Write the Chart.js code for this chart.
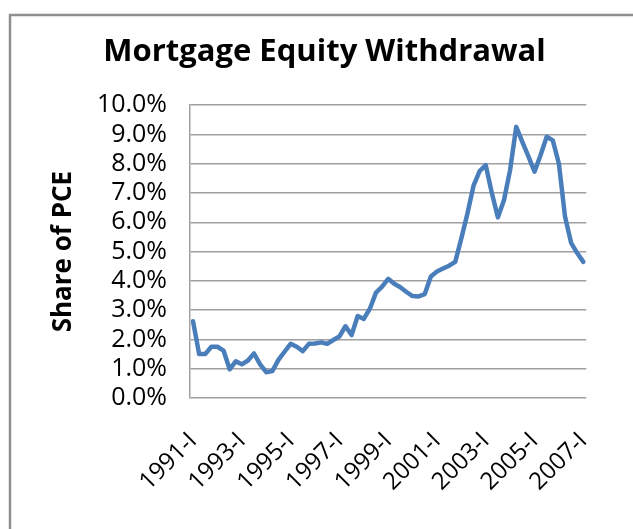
<!DOCTYPE html>
<html>
<head>
<meta charset="utf-8">
<script src="https://cdn.jsdelivr.net/npm/chart.js@4.4.1/dist/chart.umd.min.js"></script>
<style>
  html, body { margin: 0; padding: 0; background: #fff; }
  #wrap { position: absolute; left: 0; top: 0; width: 633px; height: 529px; }
</style>
</head>
<body>
<div id="wrap"><canvas id="mew"></canvas></div>
<script>
// quarters 1991-I .. 2007-I
const years = [1991, 1992, 1993, 1994, 1995, 1996, 1997, 1998, 1999, 2000, 2001, 2002, 2003, 2004, 2005, 2006, 2007];
const quarters = ['I', 'II', 'III', 'IV'];

// mortgage equity withdrawal, % of PCE
const mewShare = [
  2.62, 1.50, 1.50, 1.75, 1.75, 1.62, 0.98, 1.25,
  1.15, 1.28, 1.52, 1.15, 0.88, 0.92, 1.30, 1.58,
  1.85, 1.75, 1.60, 1.85, 1.86, 1.90, 1.85, 1.98,
  2.10, 2.45, 2.15, 2.80, 2.70, 3.05, 3.60, 3.80,
  4.07, 3.90, 3.78, 3.62, 3.48, 3.47, 3.55, 4.15,
  4.32, 4.42, 4.52, 4.65, 5.45, 6.30, 7.25, 7.75,
  7.95, 7.00, 6.17, 6.76, 7.79, 9.26, 8.75, 8.25,
  7.73, 8.30, 8.92, 8.80, 8.00, 6.20, 5.30, 4.95,
  4.65
];

const yTicks = [0, 1, 2, 3, 4, 5, 6, 7, 8, 9, 10];

const labels = [];
years.forEach(y => quarters.forEach(q => labels.push(y + '-' + q)));
labels.length = mewShare.length;

const gray = '#a0a0a0';

// the outer frame of the pasted excel chart
const framePlugin = {
  id: 'frame',
  beforeDraw(chart) {
    const ctx = chart.ctx;
    ctx.save();
    ctx.fillStyle = '#fff';
    ctx.fillRect(0, 0, chart.width, chart.height);
    ctx.strokeStyle = '#8f8f8f';
    ctx.lineWidth = 2.5;
    ctx.beginPath();
    ctx.moveTo(10, chart.height);
    ctx.lineTo(10, 15);
    ctx.lineTo(chart.width, 15);
    ctx.stroke();
    ctx.restore();
  }
};

new Chart(document.getElementById('mew'), {
  type: 'line',
  data: {
    labels: labels,
    datasets: [{
      label: 'Share of PCE',
      data: mewShare,
      borderColor: '#4a7ebb',
      borderWidth: 4.5,
      pointRadius: 0,
      tension: 0,
      borderJoinStyle: 'round',
      borderCapStyle: 'round',
      fill: false
    }]
  },
  options: {
    responsive: true,
    maintainAspectRatio: false,
    animation: false,
    layout: { padding: { left: 60, right: 44, top: 0, bottom: 0 } },
    plugins: {
      legend: { display: false },
      tooltip: { enabled: false },
      title: {
        display: true,
        text: 'Mortgage Equity Withdrawal',
        color: '#000',
        font: { family: 'Open Sans', size: 31, weight: 'bold' },
        padding: { top: 34, bottom: 34 }
      }
    },
    scales: {
      x: {
        type: 'category',
        offset: true,
        grid: { display: false, drawTicks: false },
        border: { display: false },
        afterFit(scale) { scale.height = 131; },
        ticks: {
          autoSkip: false,
          maxRotation: 45,
          minRotation: 45,
          padding: 29,
          color: '#000',
          font: { family: 'Open Sans', size: 24 },
          callback(val, i) { return i % 8 === 0 ? labels[i] : ''; }
        }
      },
      y: {
        min: 0,
        max: 10,
        afterFit(scale) { scale.width = 130; },
        afterBuildTicks(scale) { scale.ticks = yTicks.map(v => ({ value: v })); },
        grid: { color: gray, lineWidth: 1.5, drawTicks: false },
        border: { display: true, color: gray, width: 1.5 },
        title: {
          display: true,
          text: 'Share of PCE',
          color: '#000',
          font: { family: 'Open Sans', size: 26, weight: 'bold' },
          padding: { top: -12, bottom: 0 }
        },
        ticks: {
          autoSkip: false,
          padding: 23,
          color: '#000',
          font: { family: 'Open Sans', size: 25 },
          callback(v) { return v.toFixed(1) + '%'; }
        }
      }
    }
  },
  plugins: [framePlugin]
});
</script>
</body>
</html>
